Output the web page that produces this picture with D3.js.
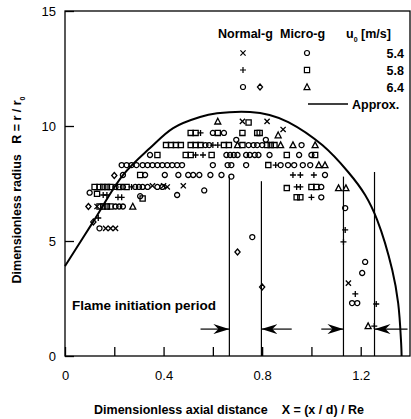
<!DOCTYPE html>
<html>
<head>
<meta charset="utf-8">
<script src="https://cdn.jsdelivr.net/npm/d3@7"></script>
<style>
  body { margin: 0; background: #fff; }
  text { font-family: "Liberation Sans", Arial, sans-serif; fill: #000; }
</style>
</head>
<body>
<div id="chart"></div>
<script>
// tick values
const xTicks = [0, 0.2, 0.4, 0.6, 0.8, 1.0, 1.2];
const xLabels = [0, 0.4, 0.8, 1.2];
const yTicks = [0, 5, 10, 15];

// normal gravity, u0 = 5.4 (x), 5.8 (+), 6.4 (diamond)
const ng54 = [[.72,10.2],[.82,10.2],[.885,9.85],[.355,7.4],[.40,7.4],[.415,7.35],[.48,7.4],
  [.13,6.5],[.165,5.55],[.185,5.55],[.205,5.55],[1.15,3.17]];
const ng58 = [[.55,9.7],[.60,9.17],[.62,9.17],[.53,8.74],[.56,8.74],[.855,8.3],[.925,7.87],
  [.955,7.87],[1.01,7.87],[.94,7.35],[.955,7.35],[.27,7.35],[.155,7.0],[.17,7.0],[.215,6.9],
  [.23,6.9],[1.0,6.9],[.135,6.0],[1.137,5.48],[1.13,4.96],[1.178,2.7],[1.255,1.3],[1.263,2.26]];
const ng64 = [[.20,7.85],[.095,6.5],[.115,5.83],[.70,4.52],[.80,3.0]];

// micro gravity, u0 = 5.4 (circle), 5.8 (square), 6.4 (triangle)
const mg54 = [[.60,9.7],[.645,9.7],[.57,9.17],[.585,9.17],[.745,9.17],[.765,9.17],[.78,9.17],
  [.80,9.17],[.96,9.17],[.695,9.4],[.815,9.4],[.345,8.74],[.655,8.74],[.67,8.74],[.685,8.74],
  [.70,8.74],[.735,8.74],[.75,8.74],[.77,8.74],[.785,8.74],[.83,8.74],[.95,8.74],[1.0,8.74],
  [.23,8.3],[.25,8.3],[.27,8.3],[.29,8.3],[.315,8.3],[.335,8.3],[.355,8.3],[.375,8.3],[.395,8.3],
  [.415,8.3],[.435,8.3],[.455,8.3],[.475,8.3],[.60,8.3],[.66,8.3],[.675,8.3],[.735,8.3],
  [.875,8.3],[.905,8.3],[.93,8.3],[.965,8.3],[.995,8.3],[.235,7.87],[.325,7.87],[.405,7.87],
  [.46,7.87],[.50,7.87],[.52,7.87],[.545,7.87],[.59,7.87],[.635,7.87],[.675,7.8],[1.055,7.87],
  [.205,7.35],[.235,7.35],[.285,7.35],[.30,7.35],[.315,7.35],[.335,7.35],[.375,7.35],[.395,7.35],
  [.565,7.2],[1.04,7.35],[.10,7.1],[.305,6.95],[.455,7.0],[1.04,6.9],[.205,6.5],[.22,6.5],
  [.235,6.5],[.14,5.55],[.76,5.17],[1.137,6.43],[1.218,4.09],[1.206,3.61],[1.165,2.3],[1.186,2.3]];
const mg58 = [[.745,10.15],[.51,9.7],[.53,9.7],[.62,9.7],[.72,9.7],[.78,9.7],[.79,9.7],
  [.41,9.17],[.43,9.17],[.45,9.17],[.47,9.17],[.51,9.17],[.53,9.17],[.55,9.17],[.645,9.17],
  [.665,9.17],[.72,9.17],[.82,9.17],[.835,9.17],[.85,9.17],[.375,8.74],[.49,8.74],[.51,8.74],
  [.595,8.74],[.90,8.74],[1.015,8.74],[.825,8.3],[.305,7.87],[.12,7.35],[.14,7.35],[.155,7.35],
  [.17,7.35],[.185,7.35],[.22,7.35],[.25,7.35],[.90,7.3],[1.0,7.35],[1.02,7.35],[.13,7.05],
  [.315,6.85],[.94,6.9],[.955,6.9],[.14,6.5],[.155,6.5],[.17,6.5],[.185,6.5]];
const mg64 = [[.62,10.2],[.865,9.6],[.70,9.17],[.875,9.17],[.925,9.17],[1.015,9.17],
  [1.03,8.3],[1.055,8.3],[1.11,7.3],[1.14,7.3],[.275,6.5],[1.23,1.3]];

// approximation curve
const approxX = [0, .008, .114, .236, .345, .439, .548, .617, .751, .83, .906, 1.044, 1.149, 1.218, 1.267, 1.328, 1.352, 1.364, 1.366];
const approxR = [3.91, 4.04, 5.83, 7.87, 9.04, 9.91, 10.39, 10.55, 10.61, 10.48, 10.17, 9.17, 8.0, 7.0, 5.91, 3.74, 2.3, 0.57, 0];

// flame initiation period markers
const initX = [0.667, 0.797, 1.13, 1.256];
const initTop = [7.8, 7.6, 7.8, 8.0];
const arrowFrom = [0.55, 0.92, 1.04, 1.39];
const arrowTo = [0.667, 0.797, 1.13, 1.256];
const arrowR = 1.17;

const width = 411, height = 419;
const svg = d3.select('#chart').append('svg')
  .attr('width', width).attr('height', height)
  .style('background-color', 'white');

const x = d3.scaleLinear().domain([0, 1.4]).range([65, 410]);
const y = d3.scaleLinear().domain([0, 15]).range([356, 11]);

// frame
svg.append('rect')
  .attr('x', x(0)).attr('y', y(15))
  .attr('width', x(1.4) - x(0)).attr('height', y(0) - y(15))
  .attr('fill', 'none').attr('stroke', '#000').attr('stroke-width', 1.3);

const xAxis = svg.append('g')
  .attr('transform', `translate(0,${y(0)})`)
  .call(d3.axisBottom(x).tickValues(xTicks).tickSize(-9).tickPadding(15)
    .tickFormat(d => xLabels.includes(d) ? d3.format('.1f')(d).replace(/^0\.0$/, '0') : ''));
xAxis.select('.domain').remove();
xAxis.selectAll('text').style('font-size', '13px');
xAxis.selectAll('line').attr('stroke-width', 1.3);

const yAxis = svg.append('g')
  .attr('transform', `translate(${x(0)},0)`)
  .call(d3.axisLeft(y).tickValues(yTicks).tickSize(-9).tickPadding(9).tickFormat(d3.format('d')));
yAxis.select('.domain').remove();
yAxis.selectAll('text').style('font-size', '13px');
yAxis.selectAll('line').attr('stroke-width', 1.3);

// marker shapes
const s = 2.6;
const shapes = {
  cross: `M${-s},${-s}L${s},${s}M${-s},${s}L${s},${-s}`,
  plus: `M${-s - .4},0L${s + .4},0M0,${-s - .4}L0,${s + .4}`,
  diamond: `M0,${-s - .4}L${s},0L0,${s + .4}L${-s},0Z`,
  circle: d3.symbol().type(d3.symbolCircle).size(20)(),
  square: `M${-s},${-s}H${s}V${s}H${-s}Z`,
  triangle: `M0,${-s - .6}L${s + .4},${s}L${-s - .4},${s}Z`
};

const series = [
  { data: mg54, shape: 'circle' },
  { data: mg58, shape: 'square' },
  { data: mg64, shape: 'triangle' },
  { data: ng54, shape: 'cross' },
  { data: ng58, shape: 'plus' },
  { data: ng64, shape: 'diamond' }
];

series.forEach(ser => {
  svg.append('g').selectAll('path')
    .data(ser.data)
    .join('path')
    .attr('transform', d => `translate(${x(d[0])},${y(d[1])})`)
    .attr('d', shapes[ser.shape])
    .attr('fill', 'none')
    .attr('stroke', '#000')
    .attr('stroke-width', 1.3);
});

// approximation curve
const line = d3.line()
  .x(d => x(d[0])).y(d => y(d[1]))
  .curve(d3.curveCatmullRom.alpha(0.5));
svg.append('path')
  .datum(d3.zip(approxX, approxR))
  .attr('d', line)
  .attr('fill', 'none').attr('stroke', '#000').attr('stroke-width', 2);

// flame initiation lines and arrows
svg.append('g').selectAll('line')
  .data(initX)
  .join('line')
  .attr('x1', d => x(d)).attr('x2', d => x(d))
  .attr('y1', (d, i) => y(initTop[i])).attr('y2', y(0))
  .attr('stroke', '#000').attr('stroke-width', 1.2);

svg.append('defs').append('marker')
  .attr('id', 'arrow').attr('viewBox', '0 0 16 10')
  .attr('refX', 16).attr('refY', 5)
  .attr('markerWidth', 16).attr('markerHeight', 10)
  .attr('markerUnits', 'userSpaceOnUse').attr('orient', 'auto')
  .append('path').attr('d', 'M0,0L16,5L0,10L5,5Z').attr('fill', '#000');

svg.append('g').selectAll('line')
  .data(arrowFrom)
  .join('line')
  .attr('x1', d => x(d)).attr('x2', (d, i) => x(arrowTo[i]))
  .attr('y1', y(arrowR)).attr('y2', y(arrowR))
  .attr('stroke', '#000').attr('stroke-width', 1.2)
  .attr('marker-end', 'url(#arrow)');

svg.append('text')
  .attr('x', 72).attr('y', 310)
  .style('font-size', '13.5px').style('font-weight', 'bold')
  .text('Flame initiation period');

// legend
const legend = svg.append('g').style('font-weight', 'bold').style('font-size', '12.5px');
legend.append('text').attr('x', 218).attr('y', 38).text('Normal-g');
legend.append('text').attr('x', 280).attr('y', 38).text('Micro-g');
const u = legend.append('text').attr('x', 346).attr('y', 38);
u.append('tspan').text('u');
u.append('tspan').attr('dy', 4).style('font-size', '7px').text('0');
u.append('tspan').attr('dy', -4).text(' [m/s]');

const legendRows = [
  { label: '5.4', ng: ['cross'], mg: 'circle' },
  { label: '5.8', ng: ['plus'], mg: 'square' },
  { label: '6.4', ng: ['circle', 'diamond'], mg: 'triangle' }
];
const rowY = [53, 70, 87];
legendRows.forEach((r, i) => {
  r.ng.forEach((sh, j) => {
    legend.append('path')
      .attr('transform', `translate(${243 + j * 17},${rowY[i]})`)
      .attr('d', shapes[sh]).attr('fill', 'none').attr('stroke', '#000').attr('stroke-width', 1.2);
  });
  legend.append('path')
    .attr('transform', `translate(307,${rowY[i]})`)
    .attr('d', shapes[r.mg]).attr('fill', 'none').attr('stroke', '#000').attr('stroke-width', 1.2);
  legend.append('text').attr('x', 404).attr('y', rowY[i] + 4.5)
    .attr('text-anchor', 'end').text(r.label);
});
legend.append('line')
  .attr('x1', 308).attr('x2', 348).attr('y1', 104).attr('y2', 104)
  .attr('stroke', '#000').attr('stroke-width', 1.5);
legend.append('text').attr('x', 352).attr('y', 108.5).text('Approx.');

// axis titles
const xt = svg.append('text')
  .attr('x', 229).attr('y', 414).attr('text-anchor', 'middle')
  .style('font-size', '12.5px').style('font-weight', 'bold');
xt.text('Dimensionless axial distance\u00a0\u00a0\u00a0\u00a0X = (x / d) / Re');

const yt = svg.append('text')
  .attr('transform', 'translate(21,190) rotate(-90)')
  .attr('text-anchor', 'middle')
  .style('font-size', '12.5px').style('font-weight', 'bold');
yt.append('tspan').text('Dimensionless radius\u00a0\u00a0\u00a0R = r / r');
yt.append('tspan').attr('dy', 4).style('font-size', '7px').text('0');
</script>
</body>
</html>
